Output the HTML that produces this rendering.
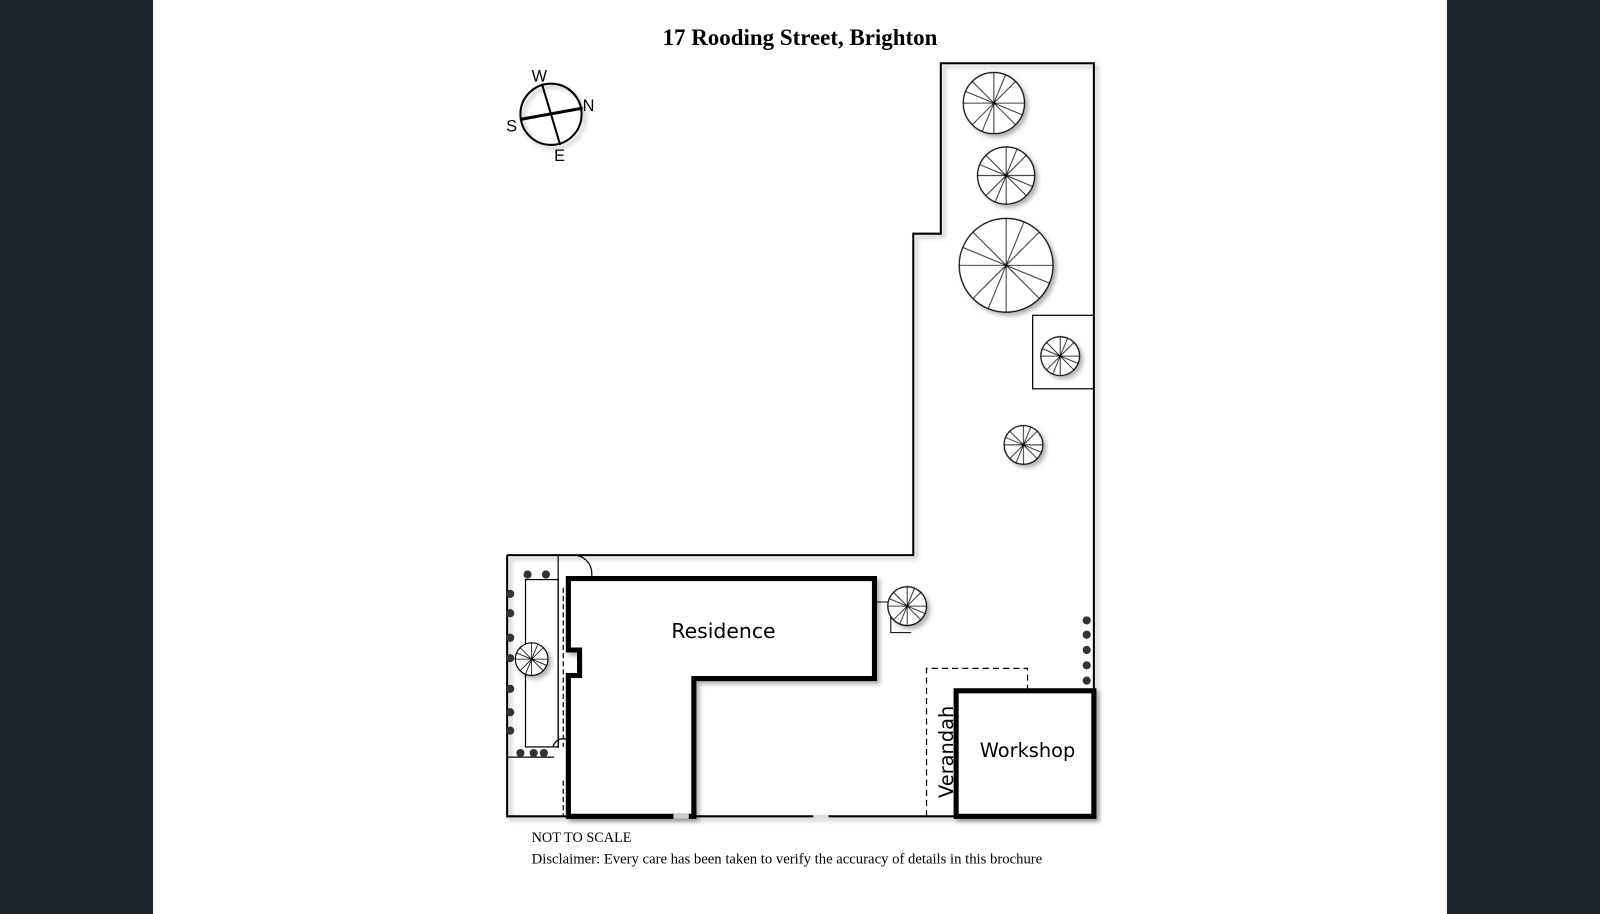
<!DOCTYPE html>
<html><head><style>html,body{margin:0;padding:0;background:#fff}svg{display:block}</style></head><body>
<svg width="1600" height="914" viewBox="0 0 1600 914" xmlns="http://www.w3.org/2000/svg">
<defs>
<filter id="sh" x="-10%" y="-10%" width="130%" height="130%"><feDropShadow dx="3" dy="3" stdDeviation="2" flood-color="#000" flood-opacity="0.3"/></filter>
<g id="tree"><circle r="1" fill="#fff" stroke="#000" stroke-width="1.2" vector-effect="non-scaling-stroke"/>
<g stroke="#000" stroke-width="0.8"><line x1="0" y1="0" x2="0" y2="-1" vector-effect="non-scaling-stroke"/><line x1="0" y1="0" x2="0.7" y2="-0.7" vector-effect="non-scaling-stroke"/><line x1="0" y1="0" x2="1" y2="0" vector-effect="non-scaling-stroke"/><line x1="0" y1="0" x2="0.7" y2="0.7" vector-effect="non-scaling-stroke"/><line x1="0" y1="0" x2="0" y2="1" vector-effect="non-scaling-stroke"/><line x1="0" y1="0" x2="-0.7" y2="0.7" vector-effect="non-scaling-stroke"/><line x1="0" y1="0" x2="-1" y2="0" vector-effect="non-scaling-stroke"/><line x1="0" y1="0" x2="-0.7" y2="-0.7" vector-effect="non-scaling-stroke"/><line x1="0" y1="0" x2="0.38" y2="-0.92" vector-effect="non-scaling-stroke"/><line x1="0" y1="0" x2="0.92" y2="0.38" vector-effect="non-scaling-stroke"/><line x1="0" y1="0" x2="-0.38" y2="0.92" vector-effect="non-scaling-stroke"/><line x1="0" y1="0" x2="-0.92" y2="-0.38" vector-effect="non-scaling-stroke"/></g></g>
</defs>
<rect x="0" y="0" width="1600" height="914" fill="#fff"/>
<g transform="scale(1.0204)">
<rect x="0" y="0" width="150" height="900" fill="#1c2529"/>
<rect x="1418" y="0" width="182" height="900" fill="#1c2529"/>
<text x="784" y="44" text-anchor="middle" font-family="Liberation Serif, serif" font-weight="bold" font-size="22.5">17 Rooding Street, Brighton</text>
<circle cx="540" cy="112" r="30" fill="none" stroke="#000" stroke-width="2" filter="url(#sh)"/>
<line x1="531" y1="82" x2="549" y2="142" stroke="#000" stroke-width="2"/>
<line x1="510" y1="117" x2="571" y2="106" stroke="#000" stroke-width="3"/>
<g font-family="Liberation Sans, sans-serif" font-size="16"><text x="521" y="80">W</text><text x="571" y="109">N</text><text x="496" y="129">S</text><text x="543" y="158">E</text></g>
<polyline points="497,544 895,544 895,229 922,229 922,62 1072,62 1072,800 497,800 497,544" fill="none" stroke="#000" stroke-width="2" filter="url(#sh)"/>
<rect x="1012" y="309" width="60" height="72" fill="none" stroke="#000" stroke-width="1.2"/>
<line x1="547" y1="544" x2="547" y2="733" stroke="#000" stroke-width="1.2"/>
<rect x="515" y="568" width="32" height="164" fill="none" stroke="#000" stroke-width="1.2"/>
<line x1="497" y1="742" x2="543" y2="742" stroke="#000" stroke-width="1.2"/>
<line x1="552" y1="576" x2="552" y2="732" stroke="#000" stroke-width="1.2" stroke-dasharray="5,3"/>
<line x1="552" y1="765" x2="552" y2="800" stroke="#000" stroke-width="1.2" stroke-dasharray="5,3"/>
<path d="M562,544 A18,18 0 0 1 580,562 L580,572" fill="none" stroke="#000" stroke-width="1.2"/>
<path d="M542,732 A10,10 0 0 1 552,724 A10,10 0 0 1 562,732" fill="none" stroke="#000" stroke-width="1.2"/>
<g fill="#333"><circle cx="517" cy="563" r="4"/><circle cx="535" cy="563" r="4"/>
<circle cx="500" cy="582" r="4"/><circle cx="500" cy="601" r="4"/><circle cx="500" cy="625" r="4"/><circle cx="500" cy="645" r="4"/><circle cx="500" cy="675" r="4"/><circle cx="500" cy="698" r="4"/><circle cx="500" cy="716" r="4"/>
<circle cx="510" cy="738" r="4"/><circle cx="523" cy="738" r="4"/><circle cx="533" cy="738" r="4"/>
<circle cx="559" cy="581" r="4"/><circle cx="559" cy="595" r="4"/><circle cx="559" cy="609" r="4"/><circle cx="559" cy="624" r="4"/>
<circle cx="562" cy="675" r="4"/><circle cx="562" cy="695" r="4"/><circle cx="562" cy="715" r="4"/><circle cx="562" cy="735" r="4"/>
<circle cx="1065" cy="608" r="4"/><circle cx="1065" cy="622" r="4"/><circle cx="1065" cy="637" r="4"/><circle cx="1065" cy="652" r="4"/><circle cx="1065" cy="667" r="4"/></g>
<polygon points="557,567 857,567 857,665 680,665 680,800 557,800 557,662 568,662 568,637 557,637" fill="#fff" stroke="#000" stroke-width="5" filter="url(#sh)"/>
<line x1="660" y1="800" x2="675" y2="800" stroke="#ccc" stroke-width="5"/>
<line x1="797" y1="800" x2="812" y2="800" stroke="#ddd" stroke-width="3"/>
<text x="709" y="625" text-anchor="middle" font-family="DejaVu Sans, sans-serif" font-size="20">Residence</text>
<polyline points="857,590 873,590 873,620 893,620" fill="none" stroke="#000" stroke-width="1"/>
<polyline points="908,800 908,655 1007,655 1007,677" fill="none" stroke="#000" stroke-width="1.2" stroke-dasharray="6,4"/>
<text transform="translate(934,782) rotate(-90)" font-family="DejaVu Sans, sans-serif" font-size="19">Verandah</text>
<rect x="937" y="677" width="135" height="123" fill="#fff" stroke="#000" stroke-width="5" filter="url(#sh)"/>
<text x="1007" y="742" text-anchor="middle" font-family="DejaVu Sans, sans-serif" font-size="19">Workshop</text>
<g filter="url(#sh)">
<use href="#tree" transform="translate(974,101) scale(30)"/>
<use href="#tree" transform="translate(986,172) scale(28)"/>
<use href="#tree" transform="translate(986,260) scale(46)"/>
<use href="#tree" transform="translate(1039,349) scale(19)"/>
<use href="#tree" transform="translate(1003,436) scale(19)"/>
<use href="#tree" transform="translate(889,594) scale(19)"/>
<use href="#tree" transform="translate(521,646) scale(16)"/>
</g>
<text x="521" y="825" font-family="Liberation Serif, serif" font-size="14">NOT TO SCALE</text>
<text x="521" y="846" font-family="Liberation Serif, serif" font-size="14.4">Disclaimer: Every care has been taken to verify the accuracy of details in this brochure</text>
</g>
</svg>
</body></html>
